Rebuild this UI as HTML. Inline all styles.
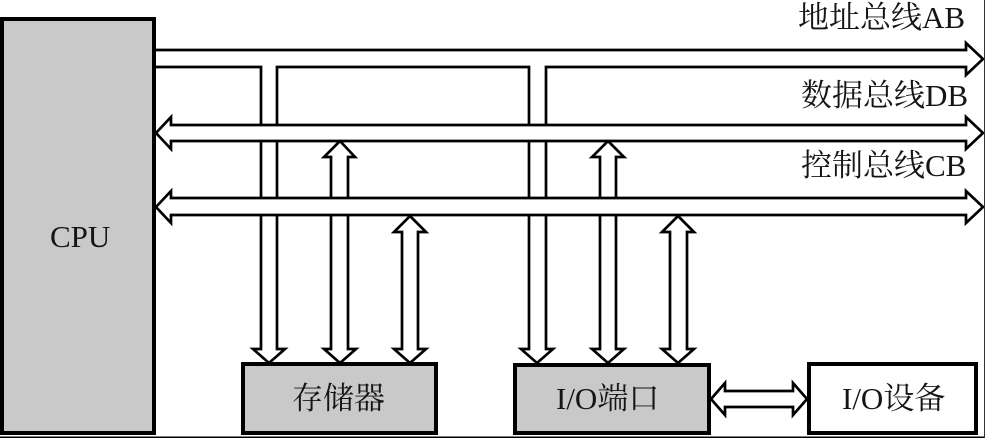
<!DOCTYPE html>
<html>
<head>
<meta charset="utf-8">
<style>
html,body{margin:0;padding:0;background:#fff;width:985px;height:438px;overflow:hidden}
svg{display:block}
text{font-family:"Liberation Serif","Noto Serif CJK SC",serif;font-size:31px;fill:#151515}
.a{fill:#fff;stroke:#000;stroke-width:2.7;stroke-linejoin:miter;stroke-miterlimit:3}
.b{stroke:#000;stroke-width:4;}
</style>
</head>
<body>
<svg width="985" height="438" viewBox="0 0 985 438" xmlns="http://www.w3.org/2000/svg">
<rect width="985" height="438" fill="#fff"/>
<!-- address bus with branches -->
<path class="a" d="M156 50H966V43L983 59L966 75V67H546V349H553L537 363L521 349H529V67H277V349H285L269 363L253 349H261V67H156"/>
<!-- vertical double arrows -->
<path class="a" d="M340 141L355 157H348V349H356L340 363L324 349H331V157H324Z"/>
<path class="a" d="M410 216L426 232H418V349H426L410 363L394 349H402V232H394Z"/>
<path class="a" d="M608 141L624 157H616V349H624L608 363L592 349H600V157H592Z"/>
<path class="a" d="M678 216L694 232H687V349H694L678 363L662 349H670V232H662Z"/>
<!-- data and control buses -->
<path class="a" d="M156 133L171 117V125H966V117L983 133L966 149V141H171V149Z"/>
<path class="a" d="M156 207L171 191V198H966V191L983 207L966 223V215H171V223Z"/>
<!-- IO link -->
<path class="a" d="M711 399L725 383V391H793V383L807 399L793 415V407H725V415Z"/>
<!-- boxes -->
<rect class="b" x="2" y="19" width="152" height="414" fill="#c9c9c9"/>
<rect class="b" x="243" y="364" width="193" height="69" fill="#c9c9c9"/>
<rect class="b" x="515" y="365" width="194" height="68" fill="#c9c9c9"/>
<rect class="b" x="809" y="364" width="167" height="69" fill="#fff"/>
<!-- frame lines -->
<rect x="0" y="436.5" width="985" height="1.5" fill="#000"/>
<rect x="984" y="0" width="1" height="438" fill="#333"/>
<!-- labels -->
<text x="798" y="28">地址总线AB</text>
<text x="801" y="106">数据总线DB</text>
<text x="801" y="176">控制总线CB</text>
<text x="50" y="247">CPU</text>
<text x="292" y="409">存储器</text>
<text x="556" y="409">I/O端口</text>
<text x="842" y="409">I/O设备</text>
</svg>
</body>
</html>
